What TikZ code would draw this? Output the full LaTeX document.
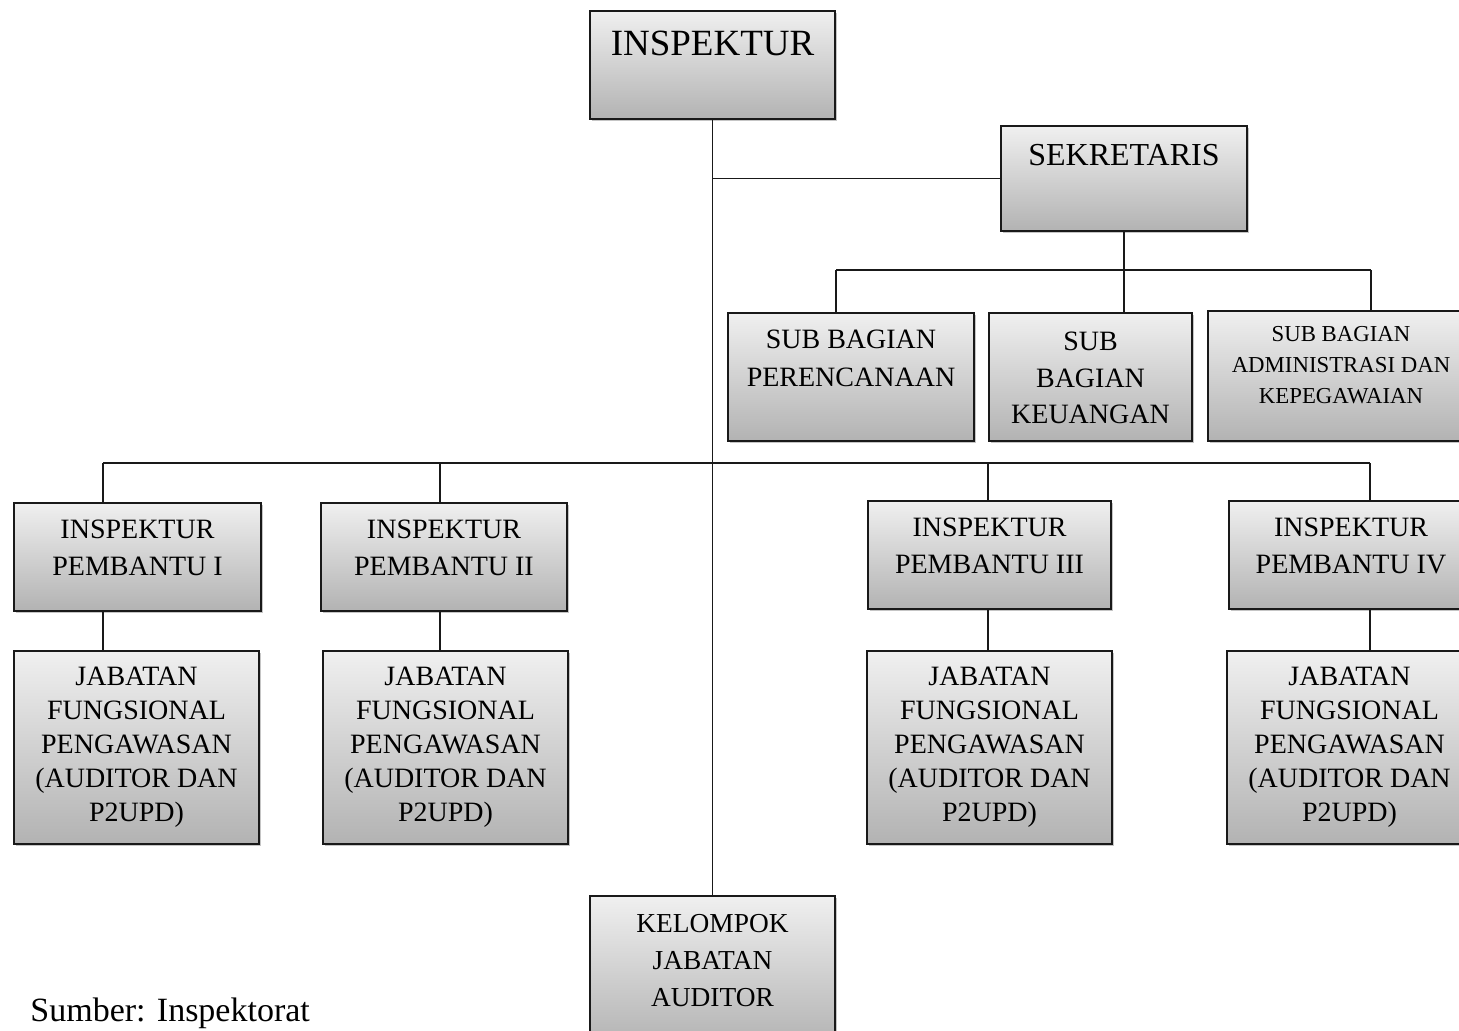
\documentclass[tikz,border=0pt]{standalone}
\usepackage{fontspec}
\setmainfont{Liberation Serif}
\usetikzlibrary{positioning, shadows}
\newcommand{\boxtxt}[4]{\parbox[c][#2][t]{#1}{\centering\vspace*{#3}#4\par}}
\tikzset{
  orgbox/.style={draw=black!90, line width=1pt, top color=black!6, bottom color=black!30, inner sep=0pt, anchor=north west,
    drop shadow={shadow xshift=1.2pt, shadow yshift=-1.2pt, fill=black!45, opacity=0.5}},
  link/.style={draw=black!90, line width=0.75pt}
}
\begin{document}
\begin{tikzpicture}[x=0.5pt, y=-0.5pt]
\useasboundingbox (0,0) rectangle (1459,1030);
\coordinate (s1) at (836,270);
\coordinate (s3) at (1371,270);
\coordinate (d1) at (103,463);
\coordinate (d2) at (440,463);
\coordinate (d3) at (988,463);
\coordinate (d4) at (1370,463);

\node[orgbox, font=\fontsize{18.5}{22}\selectfont] (insp) at (589,10) {\boxtxt{122.5pt}{54pt}{10pt}{INSPEKTUR}};
\node[orgbox, font=\fontsize{16}{20}\selectfont] (sekr) at (1000,125) {\boxtxt{123pt}{52.5pt}{9pt}{SEKRETARIS}};
\node[orgbox, font=\fontsize{14}{19}\selectfont] (sub1) at (727,312) {\boxtxt{123pt}{64pt}{8.5pt}{SUB BAGIAN\\PERENCANAAN}};
\node[orgbox, font=\fontsize{14}{18.25}\selectfont] (sub2) at (988,312) {\boxtxt{101.5pt}{64pt}{9.5pt}{SUB\\BAGIAN\\KEUANGAN}};
\node[orgbox, font=\fontsize{11.4}{15.5}\selectfont] (sub3) at (1207,310) {\boxtxt{133pt}{65pt}{7.5pt}{SUB BAGIAN\\ADMINISTRASI DAN\\KEPEGAWAIAN}};

\node[orgbox, font=\fontsize{14}{18.5}\selectfont] (ip1) at (13,502) {\boxtxt{123.5pt}{54pt}{8.5pt}{INSPEKTUR\\PEMBANTU I}};
\node[orgbox, font=\fontsize{14}{18.5}\selectfont] (ip2) at (320,502) {\boxtxt{123pt}{54pt}{8.5pt}{INSPEKTUR\\PEMBANTU II}};
\node[orgbox, font=\fontsize{14}{18.5}\selectfont] (ip3) at (867,500) {\boxtxt{121.5pt}{54pt}{8.5pt}{INSPEKTUR\\PEMBANTU III}};
\node[orgbox, font=\fontsize{14}{18.5}\selectfont] (ip4) at (1228,500) {\boxtxt{122pt}{54pt}{8.5pt}{INSPEKTUR\\PEMBANTU IV}};

\node[orgbox, font=\fontsize{14}{17}\selectfont] (jf1) at (13,650) {\boxtxt{122.5pt}{96.5pt}{8pt}{JABATAN\\FUNGSIONAL\\PENGAWASAN\\(AUDITOR DAN\\P2UPD)}};
\node[orgbox, font=\fontsize{14}{17}\selectfont] (jf2) at (322,650) {\boxtxt{122.5pt}{96.5pt}{8pt}{JABATAN\\FUNGSIONAL\\PENGAWASAN\\(AUDITOR DAN\\P2UPD)}};
\node[orgbox, font=\fontsize{14}{17}\selectfont] (jf3) at (866,650) {\boxtxt{122.5pt}{96.5pt}{8pt}{JABATAN\\FUNGSIONAL\\PENGAWASAN\\(AUDITOR DAN\\P2UPD)}};
\node[orgbox, font=\fontsize{14}{17}\selectfont] (jf4) at (1226,650) {\boxtxt{122.5pt}{96.5pt}{8pt}{JABATAN\\FUNGSIONAL\\PENGAWASAN\\(AUDITOR DAN\\P2UPD)}};

\node[orgbox, font=\fontsize{13.7}{18.5}\selectfont] (kel) at (589,895) {\boxtxt{122.5pt}{75pt}{9pt}{KELOMPOK\\JABATAN\\AUDITOR}};
\node[anchor=base west, inner sep=0pt, font=\fontsize{17}{20}\selectfont] (src) at (30,1021) {Sumber: Inspektorat};

\draw[link] (insp.south) -- (kel.north)
            (insp.south |- sekr.west) -- (sekr.west)
            (sekr.south) -- (sekr.south |- sub2.north)
            (s1) -- (s3)
            (s1) -- (s1 |- sub1.north)
            (s3) -- (s3 |- sub3.north)
            (d1) -- (d4)
            (d1) -- (d1 |- ip1.north)  (d1 |- ip1.south) -- (d1 |- jf1.north)
            (d2) -- (d2 |- ip2.north)  (d2 |- ip2.south) -- (d2 |- jf2.north)
            (d3) -- (d3 |- ip3.north)  (d3 |- ip3.south) -- (d3 |- jf3.north)
            (d4) -- (d4 |- ip4.north)  (d4 |- ip4.south) -- (d4 |- jf4.north);
\end{tikzpicture}
\end{document}
